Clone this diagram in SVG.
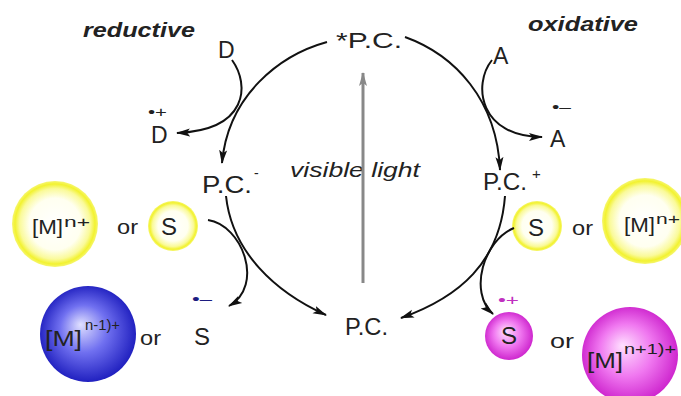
<svg xmlns="http://www.w3.org/2000/svg" width="681" height="396" viewBox="0 0 681 396">
<defs>
<style>
.t{font-family:"Liberation Sans",Arial,sans-serif;fill:#222;}
.h{font-weight:bold;font-style:italic;}
.it{font-style:italic;}
.c{fill:none;stroke:#111;stroke-width:2;}
.g{fill:none;stroke:#888;stroke-width:3;}
</style>
<marker id="ah" markerUnits="userSpaceOnUse" markerWidth="14" markerHeight="10" refX="13" refY="5" orient="auto">
<path d="M0,1 L14,5 L0,9 L3,5 Z" fill="#111"/>
</marker>
<marker id="ag" markerUnits="userSpaceOnUse" markerWidth="14" markerHeight="10" refX="13" refY="5" orient="auto">
<path d="M0,1 L14,5 L0,9 L3,5 Z" fill="#888"/>
</marker>
<radialGradient id="yel" cx="50%" cy="50%" r="50%">
<stop offset="0" stop-color="#ffffff"/>
<stop offset="0.6" stop-color="#fffff0"/>
<stop offset="0.82" stop-color="#fafa9a"/>
<stop offset="0.93" stop-color="#f2f230"/>
<stop offset="1" stop-color="#f6f670"/>
</radialGradient>
<radialGradient id="blu" cx="50%" cy="50%" r="55%" fx="42%" fy="40%">
<stop offset="0" stop-color="#e0e0ff"/>
<stop offset="0.45" stop-color="#7070f0"/>
<stop offset="1" stop-color="#1414b8"/>
</radialGradient>
<radialGradient id="mag" cx="50%" cy="50%" r="55%" fx="42%" fy="40%">
<stop offset="0" stop-color="#ffe0ff"/>
<stop offset="0.5" stop-color="#f078f0"/>
<stop offset="1" stop-color="#c818c8"/>
</radialGradient>
</defs>

<g id="labels">
<text class="t h" x="83" y="37" font-size="21" textLength="112" lengthAdjust="spacingAndGlyphs">reductive</text>
<text class="t h" x="528" y="31" font-size="21" textLength="110" lengthAdjust="spacingAndGlyphs">oxidative</text>
<text class="t it" x="290" y="177" font-size="20" textLength="130" lengthAdjust="spacingAndGlyphs">visible light</text>
</g>

<g id="pc-excited"><text class="t" x="336" y="48" font-size="22" textLength="66" lengthAdjust="spacingAndGlyphs">*P.C.</text></g>
<g id="pc-minus"><text class="t" x="202" y="193" font-size="24" textLength="50" lengthAdjust="spacingAndGlyphs">P.C.</text><text class="t" x="254" y="178" font-size="14">-</text></g>
<g id="pc-plus"><text class="t" x="483" y="190" font-size="24" textLength="44" lengthAdjust="spacingAndGlyphs">P.C.</text><text class="t" x="532" y="179" font-size="15">+</text></g>
<g id="pc"><text class="t" x="345" y="335" font-size="24" textLength="43" lengthAdjust="spacingAndGlyphs">P.C.</text></g>

<g id="donor"><text class="t" x="218" y="58" font-size="23">D</text></g>
<g id="donor-ox"><text class="t" x="148" y="117" font-size="14" textLength="19" lengthAdjust="spacingAndGlyphs">•+</text><text class="t" x="151" y="143" font-size="23">D</text></g>
<g id="acceptor"><text class="t" x="493" y="64" font-size="23">A</text></g>
<g id="acceptor-red"><text class="t" x="552" y="112" font-size="14" textLength="19" lengthAdjust="spacingAndGlyphs">•–</text><text class="t" x="550" y="147" font-size="23">A</text></g>

<g id="left-top">
<circle cx="55" cy="224" r="43" fill="url(#yel)"/>
<text class="t" x="32" y="234" font-size="20" textLength="31" lengthAdjust="spacingAndGlyphs">[M]</text>
<text class="t" x="64" y="227" font-size="15" textLength="26" lengthAdjust="spacingAndGlyphs">n+</text>
<text class="t" x="117" y="234" font-size="20" textLength="21" lengthAdjust="spacingAndGlyphs">or</text>
<circle cx="173" cy="226" r="25" fill="url(#yel)"/>
<text class="t" x="161" y="235" font-size="24">S</text>
</g>

<g id="left-bottom">
<circle cx="88" cy="334" r="48" fill="url(#blu)"/>
<text class="t" x="45" y="346" font-size="22" textLength="37" lengthAdjust="spacingAndGlyphs">[M]</text>
<text class="t" x="85" y="330" font-size="14" textLength="35" lengthAdjust="spacingAndGlyphs">n-1)+</text>
<text class="t" x="140" y="345" font-size="20" textLength="21" lengthAdjust="spacingAndGlyphs">or</text>
<text fill="#1c1c80" font-family="Liberation Sans,sans-serif" x="192" y="304" font-size="14" textLength="20" lengthAdjust="spacingAndGlyphs">•–</text>
<text class="t" x="194" y="345" font-size="24">S</text>
</g>

<g id="right-top">
<circle cx="537" cy="226" r="25" fill="url(#yel)"/>
<text class="t" x="528" y="236" font-size="24">S</text>
<text class="t" x="572" y="235" font-size="20" textLength="21" lengthAdjust="spacingAndGlyphs">or</text>
<circle cx="645" cy="221" r="43" fill="url(#yel)"/>
<text class="t" x="624" y="232" font-size="20" textLength="31" lengthAdjust="spacingAndGlyphs">[M]</text>
<text class="t" x="656" y="224" font-size="15" textLength="24" lengthAdjust="spacingAndGlyphs">n+</text>
</g>

<g id="right-bottom">
<circle cx="509" cy="336" r="24" fill="url(#mag)"/>
<text fill="#c030c0" font-family="Liberation Sans,sans-serif" x="498" y="305" font-size="14" textLength="21" lengthAdjust="spacingAndGlyphs">•+</text>
<text class="t" x="501" y="344" font-size="24">S</text>
<text class="t" x="550" y="348" font-size="20" textLength="24" lengthAdjust="spacingAndGlyphs">or</text>
<circle cx="630" cy="355" r="48" fill="url(#mag)"/>
<text class="t" x="587" y="368" font-size="22" textLength="36" lengthAdjust="spacingAndGlyphs">[M]</text>
<text class="t" x="624" y="354" font-size="15" textLength="52" lengthAdjust="spacingAndGlyphs">n+1)+</text>
</g>

<g id="connectors">
<path class="g" d="M363,283 L363,73" marker-end="url(#ag)"/>
<path class="c" d="M327,42 C280,55 228,95 222,163" marker-end="url(#ah)"/>
<path class="c" d="M232,60 C250,85 248,130 177,133" marker-end="url(#ah)"/>
<path class="c" d="M405,37 C455,55 497,100 500,170" marker-end="url(#ah)"/>
<path class="c" d="M492,60 C472,85 480,137 542,137" marker-end="url(#ah)"/>
<path class="c" d="M226,196 C232,252 275,292 326,315" marker-end="url(#ah)"/>
<path class="c" d="M208,220 C242,225 265,285 229,306" marker-end="url(#ah)"/>
<path class="c" d="M505,196 C500,262 460,297 401,318" marker-end="url(#ah)"/>
<path class="c" d="M514,228 C484,240 468,292 493,314" marker-end="url(#ah)"/>
</g>
</svg>
